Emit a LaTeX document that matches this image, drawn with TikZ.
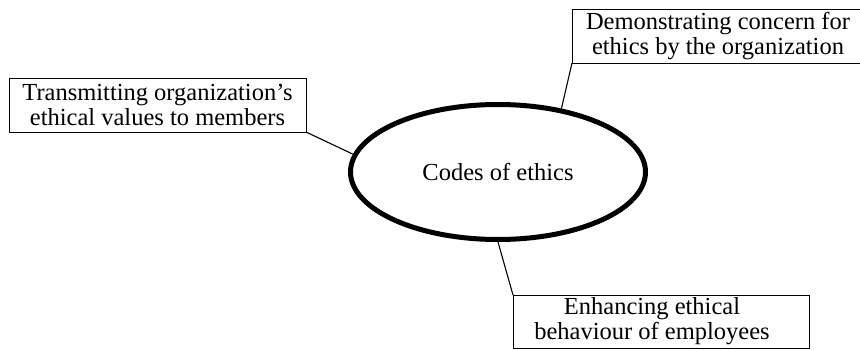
\documentclass[tikz,border=0pt]{standalone}
\usepackage{fontspec}
\setmainfont{Liberation Serif}
\usetikzlibrary{shapes.geometric}
\begin{document}
\begin{tikzpicture}[x=1pt,y=-1pt,
  box/.style={draw, line width=0.8pt, rectangle, inner sep=0pt, outer sep=0pt,
    align=center, font=\fontsize{24.5}{25}\selectfont},
  boxtext/.style={align=center, inner sep=0pt, font=\fontsize{24.5}{25}\selectfont},
  hub/.style={draw, ellipse, line width=5pt, minimum width=295pt, minimum height=135pt,
    font=\fontsize{24.5}{25}\selectfont},
  link/.style={line width=1.1pt}]
\useasboundingbox (0,0) rectangle (860,350);

% central ellipse
\node[hub] (core) at (498,172) {Codes of ethics};

% surrounding boxes
\node[box, minimum width=297pt, minimum height=54pt] (transmit) at (157.5,105)
  {Transmitting organization's\\ethical values to members};
\node[box, minimum width=292pt, minimum height=54pt] (demo) at (718,36)
  {Demonstrating concern for\\ethics by the organization};
\node[box, minimum width=296pt, minimum height=53pt] (enhance) at (661,321.5) {};
\node[boxtext] (enhancetext) at (652,321.5) {Enhancing ethical\\behaviour of employees};

% connectors
\draw[link] (transmit.south east) -- (core.173);
\draw[link] (demo.south west) -- (core.45);
\draw[link] (core.-90) -- (enhance.north west);
\end{tikzpicture}
\end{document}
